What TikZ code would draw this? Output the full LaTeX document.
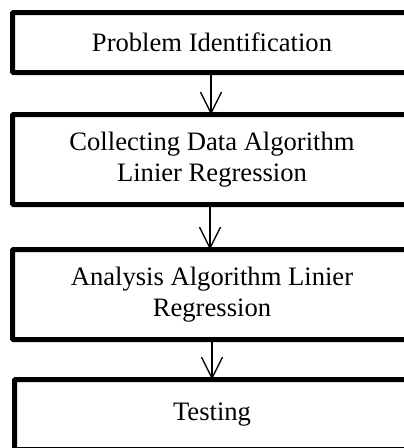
\documentclass[tikz,border=0pt]{standalone}
\usepackage{fontspec}
\setmainfont{Liberation Serif}
\usetikzlibrary{arrows.meta}
\begin{document}
\begin{tikzpicture}[x=1pt,y=-1pt,
  stepbox/.style={draw=black, line width=5pt, rounded corners=1pt, outer sep=0pt,
    inner sep=0pt, align=center, minimum width=399pt,
    font=\fontsize{26.6}{30.5}\selectfont},
  flowarrow/.style={line width=1.3pt, -{Straight Barb[length=21pt,width=21pt,line width=1.3pt]}}]
\useasboundingbox (0,0) rectangle (404,448);
\clip (0,0) rectangle (404,448);
\node[stepbox, minimum height=60pt] (p1) at (212,42.5) {Problem Identification};
\node[stepbox, minimum height=90pt] (p2) at (212,159.5) {Collecting Data Algorithm\\Linier Regression};
\node[stepbox, minimum height=90pt] (p3) at (212,294.5) {Analysis Algorithm Linier\\Regression};
\node[stepbox, minimum height=70pt, minimum width=395pt] (p4) at (212,414.5) {Testing};
\draw[flowarrow] ([xshift=-1pt]p1.south) -- ([xshift=-1pt]p2.north);
\draw[flowarrow] ([xshift=-2pt]p2.south) -- ([xshift=-2pt]p3.north);
\draw[flowarrow] (p3.south) -- (p4.north);
\end{tikzpicture}
\end{document}
